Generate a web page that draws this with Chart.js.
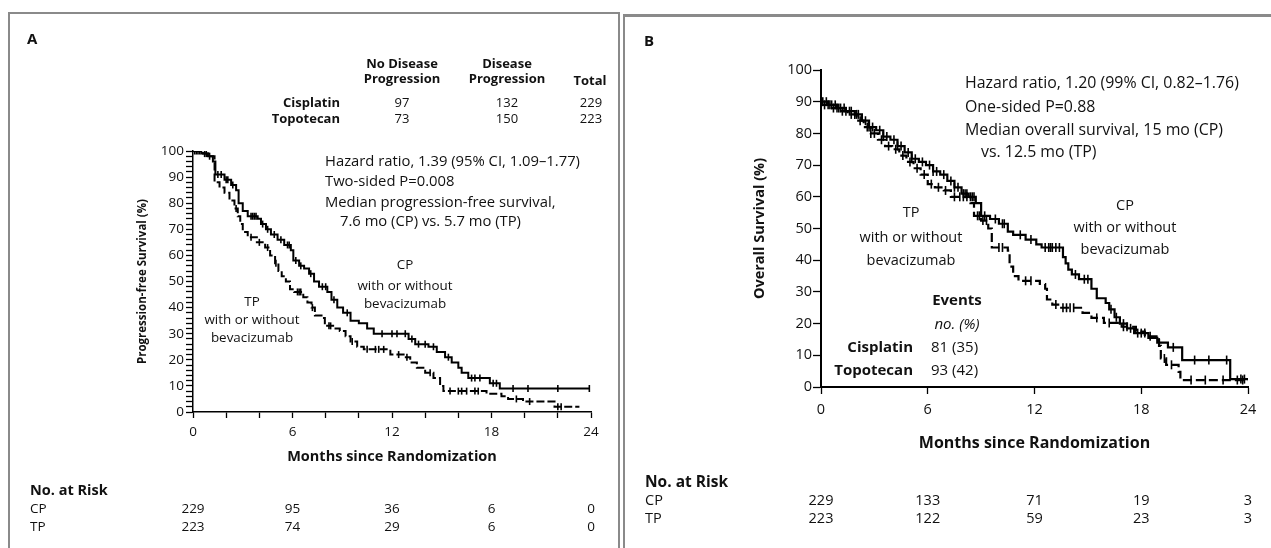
<!DOCTYPE html>
<html>
<head>
<meta charset="utf-8">
<title>Progression-free and Overall Survival</title>
<script src="https://cdn.jsdelivr.net/npm/chart.js"></script>
<style>
  html, body { margin: 0; padding: 0; }
  body { width: 1271px; height: 548px; position: relative; overflow: hidden; background: #fff;
         font-family: "Open Sans", Lato, sans-serif; color: #111; }
  canvas { position: absolute; top: 0; }
  #graficoA { left: 0; }
  #graficoB { left: 625px; }
  .painel { position: absolute; box-sizing: border-box; }
  #painelA { left: 8px; top: 12px; width: 612px; height: 560px; border: 2px solid #8a8a8a; border-bottom: none; }
  #painelB { left: 623px; top: 14px; width: 660px; height: 560px; border-left: 2px solid #8a8a8a; border-top: 3px solid #8a8a8a; }
  .txt { position: absolute; white-space: nowrap; line-height: 1; }
</style>
</head>
<body>
<div class="painel" id="painelA"></div>
<div class="painel" id="painelB"></div>
<canvas id="graficoA" width="620" height="548"></canvas>
<canvas id="graficoB" width="646" height="548"></canvas>
<script>
const mesesTicks = [0, 6, 12, 18, 24];

// Painel A - progression-free survival (months, %)
const pfsCpMeses = [0, 0.5, 0.9, 1.2, 1.35, 1.9, 2.3, 2.6, 2.75, 3.0, 3.3, 3.9, 4.1, 4.4, 4.7, 5.1, 5.5, 5.9, 6.05, 6.4, 6.7, 7.0, 7.3, 7.6, 8.1, 8.35, 8.7, 9.05, 9.5, 10.0, 10.5, 10.9, 13.0, 13.4, 14.2, 14.7, 15.2, 15.6, 16.0, 16.2, 16.6, 17.9, 18.5, 23.9];
const pfsCpValores = [100, 99, 98, 96, 91, 89, 87, 85, 80, 77, 75, 74, 72, 70, 68, 66, 64, 62, 58, 56, 55, 53, 50, 48, 46, 43, 40, 38, 35, 34, 32, 30, 28, 26, 25, 23, 21, 19, 17, 15, 13, 11, 9, 9];
const pfsTpMeses = [0, 0.6, 1.0, 1.3, 1.6, 1.9, 2.2, 2.5, 2.7, 2.85, 3.0, 3.3, 3.85, 4.35, 4.65, 4.95, 5.15, 5.35, 5.6, 5.85, 6.1, 6.65, 6.9, 7.15, 7.35, 7.75, 7.95, 8.45, 8.85, 9.2, 9.5, 9.9, 10.3, 11.9, 12.7, 13.1, 13.5, 14.0, 14.5, 14.9, 15.1, 17.7, 18.6, 19.0, 19.9, 21.8, 23.3];
const pfsTpValores = [100, 99, 98, 88, 86, 84, 81, 78, 75, 72, 69, 67, 65, 63, 60, 57, 54, 52, 50, 47, 46, 44, 42, 40, 37, 36, 33, 32, 31, 29, 27, 25, 24, 22, 21, 19, 17, 15, 13, 10, 8, 7, 6, 5, 4, 2, 2];
const pfsCpCensura = [0.1, 0.2, 0.4, 0.7, 1.0, 1.5, 1.7, 2.0, 2.1, 2.4, 3.5, 3.6, 3.7, 3.8, 4.2, 4.5, 4.9, 5.3, 5.7, 5.8, 6.2, 6.5, 7.1, 7.8, 8.0, 8.5, 9.3, 11.4, 12.0, 12.3, 12.8, 13.2, 13.6, 14.0, 14.5, 15.4, 16.8, 17.0, 17.3, 18.1, 18.3, 19.3, 20.2, 22.0, 23.9];
const pfsTpCensura = [0.3, 0.8, 2.6, 3.5, 4.0, 4.5, 5.0, 6.3, 6.4, 6.5, 7.2, 8.2, 8.3, 9.6, 10.5, 11.0, 11.2, 11.5, 12.4, 12.9, 14.3, 15.5, 16.0, 16.2, 16.5, 17.0, 17.2, 19.5, 20.3, 22.0, 22.2];
const pfsRiscoCp = [229, 95, 36, 6, 0];
const pfsRiscoTp = [223, 74, 29, 6, 0];
const tabelaCisplatin = [97, 132, 229];
const tabelaTopotecan = [73, 150, 223];

// Painel B - overall survival (months, %)
const osCpMeses = [0, 0.4, 0.9, 1.4, 1.9, 2.3, 2.7, 3.1, 3.5, 3.9, 4.3, 4.7, 5.1, 5.5, 5.9, 6.3, 6.7, 7.1, 7.5, 7.9, 8.3, 8.7, 9.0, 9.5, 10.0, 10.5, 10.8, 11.5, 12.1, 12.4, 13.6, 13.75, 13.9, 14.1, 14.5, 15.2, 15.5, 16.0, 16.2, 16.5, 16.8, 17.2, 17.6, 18.4, 18.9, 19.5, 20.3, 23.0, 24.0];
const osCpValores = [90, 89, 88, 87, 86, 84, 82, 81, 79, 78, 76, 74, 72, 71, 70, 68, 67, 65, 63, 61, 60, 58, 54, 53, 51.5, 49, 48, 46.5, 45, 44, 41, 39, 37, 35.5, 34, 31, 28, 26.5, 24.5, 22, 20, 18.5, 17, 15.5, 14, 12.5, 8.5, 2.5, 2.5];
const osTpMeses = [0, 0.5, 1.0, 1.5, 2.0, 2.4, 2.8, 3.2, 3.6, 4.0, 4.4, 4.8, 5.2, 5.6, 6.0, 6.4, 6.9, 7.3, 8.4, 8.6, 9.0, 9.4, 9.6, 10.5, 10.6, 10.8, 11.1, 12.3, 12.6, 12.7, 13.0, 13.4, 14.7, 15.2, 15.9, 16.9, 17.7, 18.2, 19.0, 19.1, 19.4, 20.1, 20.2, 24.0];
const osTpValores = [89, 88, 87, 86, 84, 82, 80, 78, 76, 75, 73, 71, 69, 67, 64, 63, 62, 60, 58, 54, 52.5, 50, 44, 43, 38, 35, 33.5, 32.5, 31, 27.6, 26, 25, 23.4, 21.8, 20.2, 19, 17.5, 16, 13, 9, 7, 4.8, 2.2, 2.2];
const osCpCensura = [0.1, 0.3, 0.5, 0.6, 0.8, 1.0, 1.1, 1.3, 1.6, 1.7, 2.0, 2.1, 2.5, 2.7, 2.9, 3.3, 3.5, 3.7, 4.1, 4.3, 4.5, 4.9, 5.1, 5.3, 5.7, 6.1, 6.3, 6.5, 6.9, 7.3, 7.5, 7.7, 8.0, 8.1, 8.2, 8.4, 8.5, 8.6, 9.2, 9.8, 10.2, 10.3, 11.2, 11.8, 12.6, 12.8, 12.9, 13.0, 13.2, 13.4, 14.3, 14.8, 15.0, 16.3, 16.6, 17.0, 17.4, 17.8, 18.0, 18.2, 19.0, 19.8, 21.0, 21.8, 22.8, 23.6, 23.8];
const osTpCensura = [0.2, 0.4, 0.7, 0.9, 1.2, 1.4, 1.7, 1.9, 2.2, 2.6, 2.8, 3.0, 3.4, 3.8, 4.2, 4.6, 5.0, 5.4, 5.8, 6.2, 6.6, 7.0, 7.5, 7.8, 8.0, 8.2, 8.8, 8.9, 9.1, 9.3, 10.0, 10.2, 11.5, 11.8, 13.2, 13.6, 13.8, 14.0, 14.2, 15.5, 16.2, 17.0, 17.2, 18.5, 19.3, 19.7, 20.8, 21.6, 22.6, 23.4, 23.7];
const osRiscoCp = [229, 133, 71, 19, 3];
const osRiscoTp = [223, 122, 59, 23, 3];
const eventosNo = [81, 93];
const eventosPct = [35, 42];

const fonte = '"Open Sans", Lato, sans-serif';
const corTexto = '#111';

function degraus(meses, valores) {
  return meses.map((m, i) => ({ x: m, y: valores[i] }));
}

// a censoring tick sits on the curve at the time it happens
function valorNoTempo(meses, valores, t) {
  let v = valores[0];
  meses.forEach((m, i) => { if (m <= t) v = valores[i]; });
  return v;
}

function marcasCensura(tempos, meses, valores) {
  return tempos.map(t => ({ x: t, y: valorNoTempo(meses, valores, t) }));
}

function escreve(texto, x, y, opcoes = {}) {
  const el = document.createElement('div');
  el.className = 'txt';
  el.textContent = texto;
  el.style.left = x + 'px';
  el.style.top = y + 'px';
  el.style.fontSize = (opcoes.size || 13) + 'px';
  if (opcoes.bold) el.style.fontWeight = '700';
  if (opcoes.italic) el.style.fontStyle = 'italic';
  const tx = opcoes.align === 'center' ? '-50%' : opcoes.align === 'right' ? '-100%' : '0';
  el.style.transform = 'translate(' + tx + ', -50%)';
  document.body.appendChild(el);
}

function constroiGraficoKM(id, p) {
  const censura = {
    showLine: false,
    pointStyle: 'line',
    pointRotation: 90,
    pointRadius: p.marca,
    pointBorderWidth: 1.6,
    pointBorderColor: '#000'
  };

  const data = {
    datasets: [
      { data: degraus(p.cpMeses, p.cpValores), stepped: true, borderColor: '#000', borderWidth: p.linha, pointRadius: 0 },
      { data: degraus(p.tpMeses, p.tpValores), stepped: true, borderColor: '#000', borderWidth: p.linha, borderDash: p.tracejado, pointRadius: 0 },
      Object.assign({ data: marcasCensura(p.cpCensura, p.cpMeses, p.cpValores) }, censura),
      Object.assign({ data: marcasCensura(p.tpCensura, p.tpMeses, p.tpValores) }, censura)
    ]
  };

  const config = {
    type: 'line',
    data: data,
    options: {
      responsive: false,
      animation: false,
      devicePixelRatio: 1,
      events: [],
      layout: { padding: p.padding },
      plugins: {
        legend: { display: false },
        tooltip: { enabled: false }
      },
      scales: {
        x: {
          type: 'linear',
          min: 0,
          max: 24,
          afterFit: s => { s.height = p.alturaX; },
          ticks: {
            stepSize: p.passoX,
            autoSkip: false,
            maxRotation: 0,
            padding: p.padX,
            color: corTexto,
            font: { family: fonte, size: p.fonteTick },
            callback: v => (v % 6 === 0 ? v : '')
          },
          grid: { drawOnChartArea: false, tickLength: p.tickX, tickColor: '#000', tickWidth: 1.3 },
          border: { display: true, color: '#000', width: p.eixo },
          title: {
            display: true,
            text: 'Months since Randomization',
            color: corTexto,
            font: { family: fonte, size: p.fonteTituloX, weight: 'bold' },
            padding: { top: 0, bottom: p.padTituloX }
          }
        },
        y: {
          min: 0,
          max: 100,
          afterFit: s => { s.width = p.larguraY; },
          ticks: {
            stepSize: p.passoY,
            autoSkip: false,
            padding: p.padY,
            color: corTexto,
            font: { family: fonte, size: p.fonteTick },
            callback: v => (v % 10 === 0 ? v : '')
          },
          grid: { drawOnChartArea: false, tickLength: p.tickY, tickColor: '#000', tickWidth: 1.3 },
          border: { display: true, color: '#000', width: p.eixo },
          title: {
            display: true,
            text: p.tituloY,
            color: corTexto,
            font: { family: fonte, size: p.fonteTituloY, weight: 'bold' },
            padding: { top: p.padTituloY, bottom: 0 }
          }
        }
      }
    }
  };

  return new Chart(document.getElementById(id), config);
}

function escreveRisco(grafico, deslocX, valores, y, size) {
  mesesTicks.forEach((m, i) => {
    escreve(String(valores[i]), deslocX + grafico.scales.x.getPixelForValue(m), y, { size: size, align: 'center' });
  });
}

function constroiPainelA() {
  const grafico = constroiGraficoKM('graficoA', {
    cpMeses: pfsCpMeses, cpValores: pfsCpValores, tpMeses: pfsTpMeses, tpValores: pfsTpValores,
    cpCensura: pfsCpCensura, tpCensura: pfsTpCensura,
    linha: 2, tracejado: [8, 3], marca: 3.5, eixo: 1.5,
    padding: { left: 133, top: 151, right: 29, bottom: 80 },
    larguraY: 60, alturaX: 56,
    passoX: 2, passoY: 2, tickX: 6, tickY: 7, padX: 6, padY: 2,
    fonteTick: 13.5, fonteTituloX: 14.5, fonteTituloY: 11.5, padTituloX: 2, padTituloY: 3,
    tituloY: 'Progression-free Survival (%)'
  });

  escreve('A', 27, 38, { size: 15, bold: true });

  escreve('No Disease', 402, 63, { size: 13, bold: true, align: 'center' });
  escreve('Progression', 402, 78, { size: 13, bold: true, align: 'center' });
  escreve('Disease', 507, 63, { size: 13, bold: true, align: 'center' });
  escreve('Progression', 507, 78, { size: 13, bold: true, align: 'center' });
  escreve('Total', 590, 80, { size: 13, bold: true, align: 'center' });
  escreve('Cisplatin', 340, 102, { size: 13, bold: true, align: 'right' });
  escreve('Topotecan', 340, 118, { size: 13, bold: true, align: 'right' });
  [402, 507, 591].forEach((x, i) => {
    escreve(String(tabelaCisplatin[i]), x, 102, { size: 13, align: 'center' });
    escreve(String(tabelaTopotecan[i]), x, 118, { size: 13, align: 'center' });
  });

  escreve('Hazard ratio, 1.39 (95% CI, 1.09\u20131.77)', 325, 160, { size: 14.8 });
  escreve('Two-sided P=0.008', 325, 180, { size: 14.8 });
  escreve('Median progression-free survival,', 325, 201, { size: 14.8 });
  escreve('7.6 mo (CP) vs. 5.7 mo (TP)', 340, 220, { size: 14.8 });

  escreve('CP', 405, 265, { size: 13.4, align: 'center' });
  escreve('with or without', 405, 286, { size: 13.4, align: 'center' });
  escreve('bevacizumab', 405, 304, { size: 13.4, align: 'center' });
  escreve('TP', 252, 302, { size: 13.4, align: 'center' });
  escreve('with or without', 252, 320, { size: 13.4, align: 'center' });
  escreve('bevacizumab', 252, 338, { size: 13.4, align: 'center' });

  escreve('No. at Risk', 30, 490, { size: 14.5, bold: true });
  escreve('CP', 30, 509, { size: 13.5 });
  escreve('TP', 30, 527, { size: 13.5 });
  escreveRisco(grafico, 0, pfsRiscoCp, 509, 13.5);
  escreveRisco(grafico, 0, pfsRiscoTp, 527, 13.5);
}

function constroiPainelB() {
  const grafico = constroiGraficoKM('graficoB', {
    cpMeses: osCpMeses, cpValores: osCpValores, tpMeses: osTpMeses, tpValores: osTpValores,
    cpCensura: osCpCensura, tpCensura: osTpCensura,
    linha: 2.2, tracejado: [9, 4], marca: 4.5, eixo: 2,
    padding: { left: 116, top: 70, right: 23, bottom: 95 },
    larguraY: 80, alturaX: 66,
    passoX: 6, passoY: 10, tickX: 7, tickY: 8, padX: 7, padY: 1,
    fonteTick: 14.5, fonteTituloX: 16, fonteTituloY: 14.5, padTituloX: 0, padTituloY: 10,
    tituloY: 'Overall Survival (%)'
  });

  escreve('B', 644, 40, { size: 15, bold: true });

  escreve('Hazard ratio, 1.20 (99% CI, 0.82\u20131.76)', 965, 83, { size: 15.9 });
  escreve('One-sided P=0.88', 965, 107, { size: 15.9 });
  escreve('Median overall survival, 15 mo (CP)', 965, 130, { size: 15.9 });
  escreve('vs. 12.5 mo (TP)', 981, 152, { size: 15.9 });

  escreve('TP', 911, 212, { size: 14.5, align: 'center' });
  escreve('with or without', 911, 237, { size: 14.5, align: 'center' });
  escreve('bevacizumab', 911, 260, { size: 14.5, align: 'center' });
  escreve('CP', 1125, 205, { size: 14.5, align: 'center' });
  escreve('with or without', 1125, 227, { size: 14.5, align: 'center' });
  escreve('bevacizumab', 1125, 249, { size: 14.5, align: 'center' });

  escreve('Events', 957, 299, { size: 15, bold: true, align: 'center' });
  escreve('no. (%)', 957, 323, { size: 15, italic: true, align: 'center' });
  escreve('Cisplatin', 913, 346, { size: 15, bold: true, align: 'right' });
  escreve('Topotecan', 913, 369, { size: 15, bold: true, align: 'right' });
  escreve(eventosNo[0] + ' (' + eventosPct[0] + ')', 931, 346, { size: 15 });
  escreve(eventosNo[1] + ' (' + eventosPct[1] + ')', 931, 369, { size: 15 });

  escreve('No. at Risk', 645, 482, { size: 15.5, bold: true });
  escreve('CP', 645, 500, { size: 14.5 });
  escreve('TP', 645, 518, { size: 14.5 });
  escreveRisco(grafico, 625, osRiscoCp, 500, 14.5);
  escreveRisco(grafico, 625, osRiscoTp, 518, 14.5);
}

constroiPainelA();
constroiPainelB();
</script>
</body>
</html>
